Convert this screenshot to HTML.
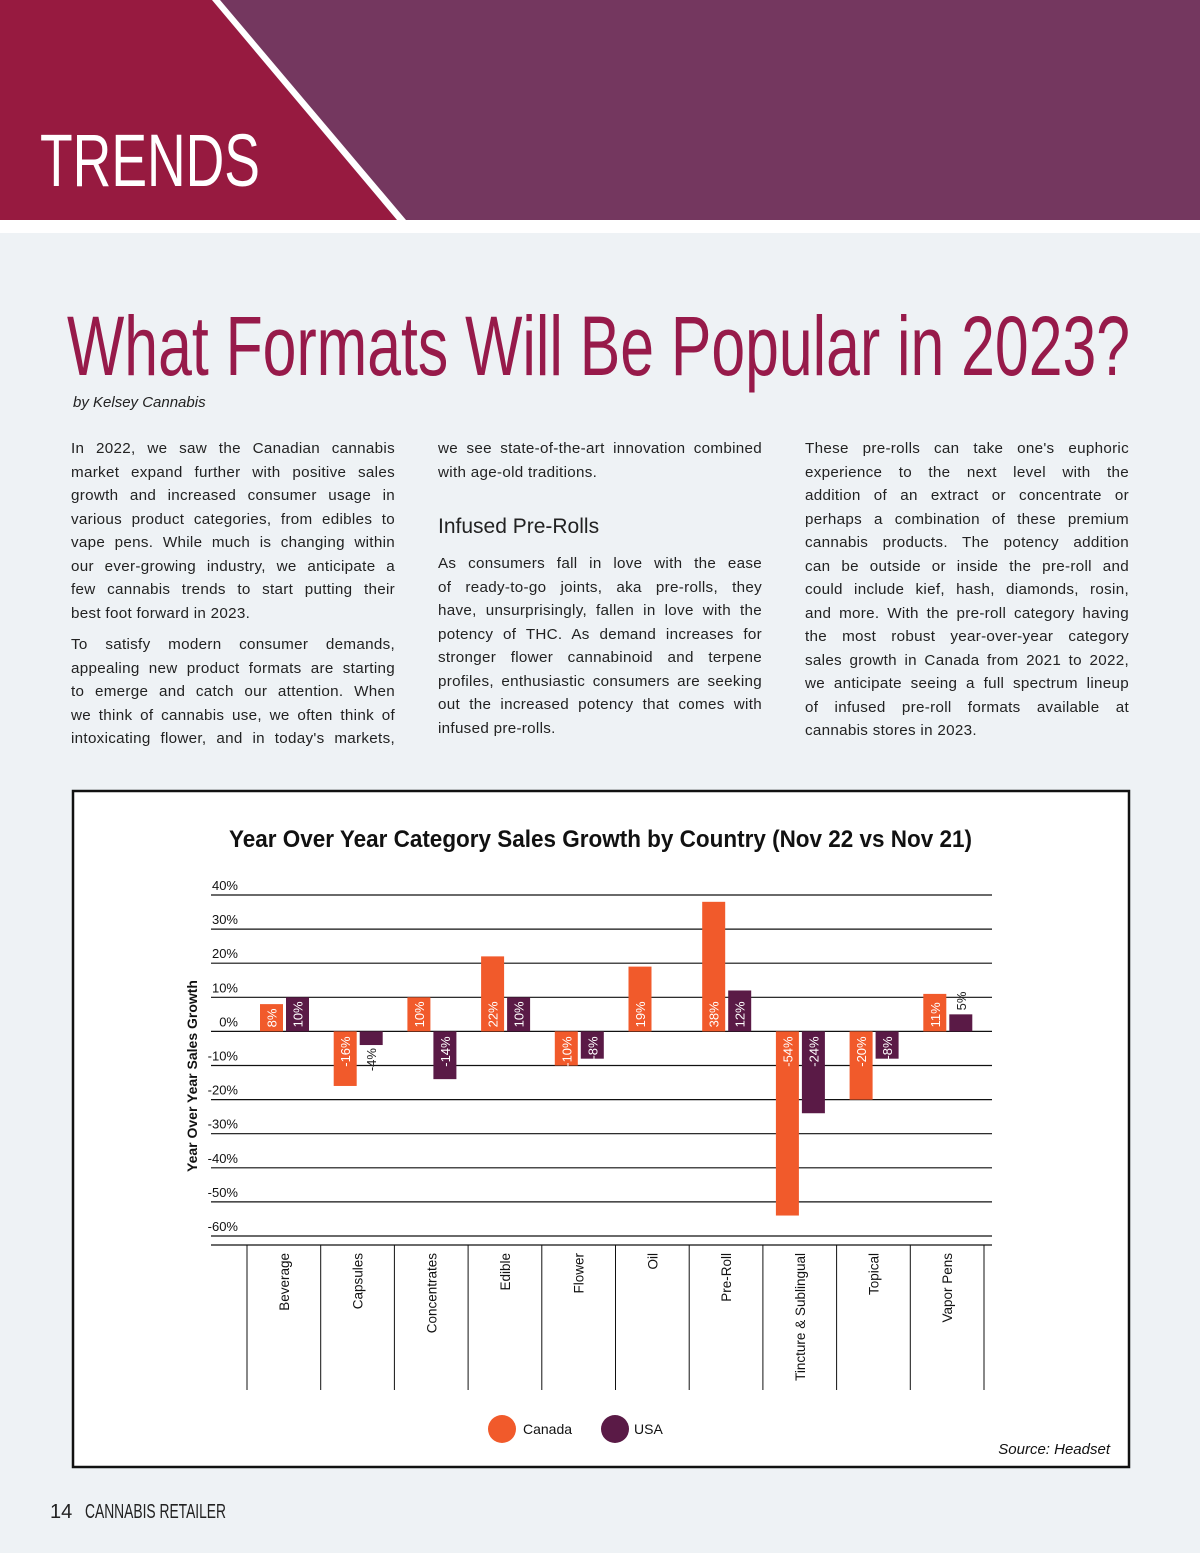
<!DOCTYPE html>
<html><head><meta charset="utf-8">
<style>
html,body{margin:0;padding:0;}
body{width:1200px;height:1553px;position:relative;background:#eef2f5;font-family:"Liberation Sans",sans-serif;overflow:hidden;}
.col{position:absolute;top:437px;width:324px;font-size:15.2px;letter-spacing:0.3px;line-height:23.5px;color:#222;}
.col p{margin:0 0 8px 0;}
.col span{display:block;text-align:justify;text-align-last:justify;white-space:nowrap;}
.col span.l{text-align-last:left;}
.col h3{font-weight:normal;font-size:21px;letter-spacing:0;margin:30px 0 12px 0;line-height:26px;color:#222;}
</style></head>
<body>
<svg width="1200" height="233" style="position:absolute;left:0;top:0">
  <rect x="0" y="0" width="1200" height="233" fill="#ffffff"/>
  <rect x="0" y="0" width="1200" height="220" fill="#74375f"/>
  <polygon points="0,0 212,0 397,220 0,220" fill="#971a40"/>
  <polygon points="212,0 220,0 406,220 397,220" fill="#ffffff"/>
  <text x="40" y="186" font-family="'Liberation Sans Narrow','Liberation Sans',sans-serif" font-size="74" fill="#fff" textLength="220" lengthAdjust="spacingAndGlyphs">TRENDS</text>
</svg>
<svg width="1200" height="120" style="position:absolute;left:0;top:300px">
  <text x="67" y="75" font-family="'Liberation Sans Narrow','Liberation Sans',sans-serif" font-size="84" fill="#971a4a" textLength="1063" lengthAdjust="spacingAndGlyphs">What Formats Will Be Popular in 2023?</text>
</svg>
<div style="position:absolute;left:73px;top:394px;font-size:15px;font-style:italic;color:#222;">by Kelsey Cannabis</div>
<div class="col" style="left:71px">
<p><span>In 2022, we saw the Canadian cannabis</span><span>market expand further with positive sales</span><span>growth and increased consumer usage in</span><span>various product categories, from edibles to</span><span>vape pens. While much is changing within</span><span>our ever-growing industry, we anticipate a</span><span>few cannabis trends to start putting their</span><span class="l">best foot forward in 2023.</span></p>
<p><span>To satisfy modern consumer demands,</span><span>appealing new product formats are starting</span><span>to emerge and catch our attention. When</span><span>we think of cannabis use, we often think of</span><span>intoxicating flower, and in today's markets,</span></p>
</div>
<div class="col" style="left:438px">
<p><span>we see state-of-the-art innovation combined</span><span class="l">with age-old traditions.</span></p>
<h3>Infused Pre-Rolls</h3>
<p><span>As consumers fall in love with the ease</span><span>of ready-to-go joints, aka pre-rolls, they</span><span>have, unsurprisingly, fallen in love with the</span><span>potency of THC. As demand increases for</span><span>stronger flower cannabinoid and terpene</span><span>profiles, enthusiastic consumers are seeking</span><span>out the increased potency that comes with</span><span class="l">infused pre-rolls.</span></p>
</div>
<div class="col" style="left:805px">
<p><span>These pre-rolls can take one's euphoric</span><span>experience to the next level with the</span><span>addition of an extract or concentrate or</span><span>perhaps a combination of these premium</span><span>cannabis products. The potency addition</span><span>can be outside or inside the pre-roll and</span><span>could include kief, hash, diamonds, rosin,</span><span>and more. With the pre-roll category having</span><span>the most robust year-over-year category</span><span>sales growth in Canada from 2021 to 2022,</span><span>we anticipate seeing a full spectrum lineup</span><span>of infused pre-roll formats available at</span><span class="l">cannabis stores in 2023.</span></p>
</div>

<svg id="chart" width="1200" height="1553" style="position:absolute;left:0;top:0" font-family="'Liberation Sans',sans-serif"></svg>

<div style="position:absolute;left:50px;top:1498px;">
<svg width="200" height="26"><text x="0" y="20" font-family="'Liberation Sans Narrow','Liberation Sans',sans-serif" font-size="20" fill="#222">14</text><text x="35" y="20" font-family="'Liberation Sans Narrow','Liberation Sans',sans-serif" font-size="20" fill="#222" textLength="141" lengthAdjust="spacingAndGlyphs">CANNABIS RETAILER</text></svg>
</div>

<script>
const categories = ["Beverage","Capsules","Concentrates","Edible","Flower","Oil","Pre-Roll","Tincture & Sublingual","Topical","Vapor Pens"];
const canadaValues = [8,-16,10,22,-10,19,38,-54,-20,11];
const usaValues = [10,-4,-14,10,-8,null,12,-24,-8,5];
const yTicks = [40,30,20,10,0,-10,-20,-30,-40,-50,-60];
const seriesNames = ["Canada","USA"];

const NS="http://www.w3.org/2000/svg";
const svg=document.getElementById('chart');
function el(tag,attrs,parent){const e=document.createElementNS(NS,tag);for(const k in attrs)e.setAttribute(k,attrs[k]);(parent||svg).appendChild(e);return e;}
const plotL=211,plotR=992,catL=247,catW=73.7;
const yTop=895,yBot=1236,vTop=40,vBot=-60;
function y(v){return yTop+(vTop-v)*(yBot-yTop)/(vTop-vBot);}
function xCat(i){return catL+i*catW;}
const colors=["#f15a2b","#5a1a46"];

const box=el('rect',{x:73,y:791,width:1056,height:676,fill:'#fff',stroke:'#111','stroke-width':2.5});


const title=el('text',{x:229,y:847,'font-size':24,'font-weight':'bold',fill:'#111',textLength:743,lengthAdjust:'spacingAndGlyphs'});
title.textContent="Year Over Year Category Sales Growth by Country (Nov 22 vs Nov 21)";



yTicks.forEach(t=>{
  const g=el('line',{x1:plotL,x2:plotR,y1:y(t),y2:y(t),stroke:'#111','stroke-width':1.2});
  
  
  const lb=el('text',{x:238,y:y(t)-5,'font-size':13,fill:'#111','text-anchor':'end'});
  lb.textContent=t+"%";
  
  
});
const yt=el('text',{x:0,y:0,'font-size':14,'font-weight':'bold',fill:'#111','text-anchor':'middle',transform:'translate(197,1076) rotate(-90)'});
yt.textContent="Year Over Year Sales Growth";



const ax=el('line',{x1:plotL,x2:plotR,y1:1245,y2:1245,stroke:'#111','stroke-width':1.2});


for(let i=0;i<=categories.length;i++){
  const s=el('line',{x1:xCat(i),x2:xCat(i),y1:1245,y2:1390,stroke:'#111','stroke-width':1});
  
  
}
categories.forEach((c,i)=>{
  const cx=xCat(i)+catW/2+5;
  const t=el('text',{x:0,y:0,'font-size':13.5,fill:'#111','text-anchor':'end',transform:`translate(${cx},1253) rotate(-90)`});
  t.textContent=c;
  
  
});

[canadaValues,usaValues].forEach((vals,s)=>{
  vals.forEach((v,i)=>{
    if(v===null)return;
    const bx=xCat(i)+13+s*26,bw=23;
    const y0=y(0),y1=y(v);
    const r=el('rect',{x:bx,y:Math.min(y0,y1),width:bw,height:Math.abs(y1-y0),fill:colors[s]});
    
    
    const len=Math.abs(y1-y0);
    const txt=v+"%";
    const tl=txt.length*6.5;
    let ty,anchor,fill;
    if(len>tl+6){fill='#fff';
      if(v>=0){ty=y0-4;anchor='start';}else{ty=y0+5;anchor='end';}
    }else{fill='#222';
      if(v>=0){ty=y1-4;anchor='start';}else{ty=y1+3;anchor='end';}
    }
    const tx=bx+bw/2+5;
    const l=el('text',{x:0,y:0,'font-size':13,fill:fill,'text-anchor':anchor,transform:`translate(${tx},${ty}) rotate(-90)`});
    l.textContent=txt;
    
    
  });
});

[[502,523],[615,634]].forEach((p,s)=>{
  const c=el('circle',{cx:p[0],cy:1429,r:14,fill:colors[s]});
  
  
  const t=el('text',{x:p[1],y:1434,'font-size':14,fill:'#111'});
  t.textContent=seriesNames[s];
  
  
});
const src=el('text',{x:1110,y:1454,'font-size':15,'font-style':'italic',fill:'#111','text-anchor':'end'});
src.textContent="Source: Headset";


</script>
</body></html>
